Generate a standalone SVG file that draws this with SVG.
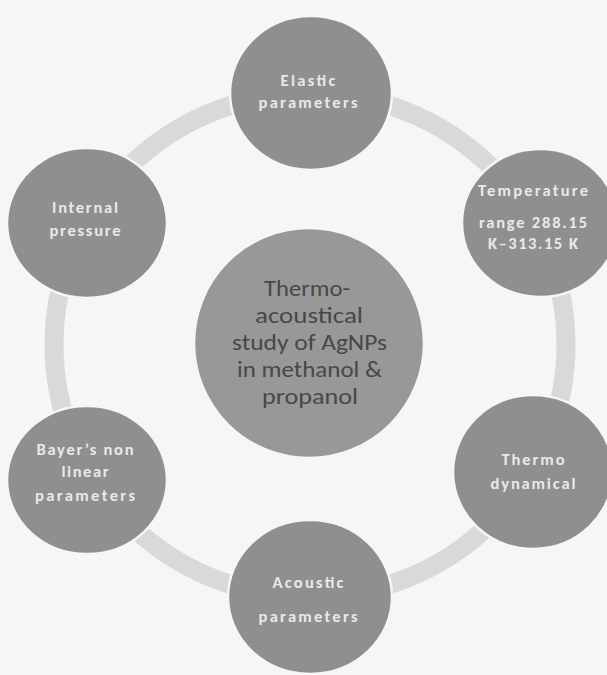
<svg xmlns="http://www.w3.org/2000/svg" width="607" height="675" viewBox="0 0 607 675">
<style>
.bg{fill:#f5f6f6}
.ring{fill:none;stroke:#d8d9d9;stroke-width:19}
.node{fill:#8f8f8f;stroke:#f5f6f6;stroke-width:2.5}
.hub{fill:#989898;stroke:#f5f6f6;stroke-width:2.5}
.lbl{font-family:Carlito,Lato,"Liberation Sans",sans-serif;font-size:16.5px;font-weight:bold;fill:#e9e9e9;text-anchor:middle}
.hubtxt{font-family:Carlito,Lato,"Liberation Sans",sans-serif;font-size:22px;fill:#464946;text-anchor:middle}
</style>
<rect class="bg" x="0" y="0" width="607" height="675"/>
<g id="connectors">
<ellipse class="ring" cx="310" cy="345" rx="256" ry="252"/>
</g>
<g id="hub">
<circle class="hub" cx="309" cy="343" r="115"/>
<text class="hubtxt" x="307" y="296" textLength="86" lengthAdjust="spacingAndGlyphs">Thermo-</text>
<text class="hubtxt" x="309" y="323" textLength="108" lengthAdjust="spacingAndGlyphs">acoustical</text>
<text class="hubtxt" x="309.5" y="350" textLength="155" lengthAdjust="spacingAndGlyphs">study of AgNPs</text>
<text class="hubtxt" x="309.5" y="377" textLength="145" lengthAdjust="spacingAndGlyphs">in methanol &amp;</text>
<text class="hubtxt" x="310" y="404" textLength="96" lengthAdjust="spacingAndGlyphs">propanol</text>
</g>
<g id="elastic">
<ellipse class="node" cx="311" cy="93" rx="81" ry="77"/>
<text class="lbl" x="308" y="86" textLength="55">Elastic</text>
<text class="lbl" x="308" y="108" textLength="99">parameters</text>
</g>
<g id="temperature">
<ellipse class="node" cx="540" cy="223" rx="78" ry="74"/>
<text class="lbl" x="533" y="196" textLength="110">Temperature</text>
<text class="lbl" x="533" y="228" textLength="108">range 288.15</text>
<text class="lbl" x="533" y="249" textLength="90">K–313.15 K</text>
</g>
<g id="thermodynamical">
<ellipse class="node" cx="533" cy="472" rx="80" ry="77"/>
<text class="lbl" x="533" y="465" textLength="63">Thermo</text>
<text class="lbl" x="533" y="489" textLength="85">dynamical</text>
</g>
<g id="acoustic">
<ellipse class="node" cx="310" cy="597" rx="82" ry="77"/>
<text class="lbl" x="308" y="588" textLength="71">Acoustic</text>
<text class="lbl" x="308" y="622" textLength="99">parameters</text>
</g>
<g id="bayer">
<ellipse class="node" cx="87" cy="480" rx="80" ry="74"/>
<text class="lbl" x="85" y="455" textLength="97">Bayer’s non</text>
<text class="lbl" x="85" y="477" textLength="47">linear</text>
<text class="lbl" x="85" y="501" textLength="100">parameters</text>
</g>
<g id="internal">
<ellipse class="node" cx="87" cy="223" rx="80" ry="75"/>
<text class="lbl" x="85" y="213" textLength="66">Internal</text>
<text class="lbl" x="85" y="236" textLength="71">pressure</text>
</g>
</svg>
